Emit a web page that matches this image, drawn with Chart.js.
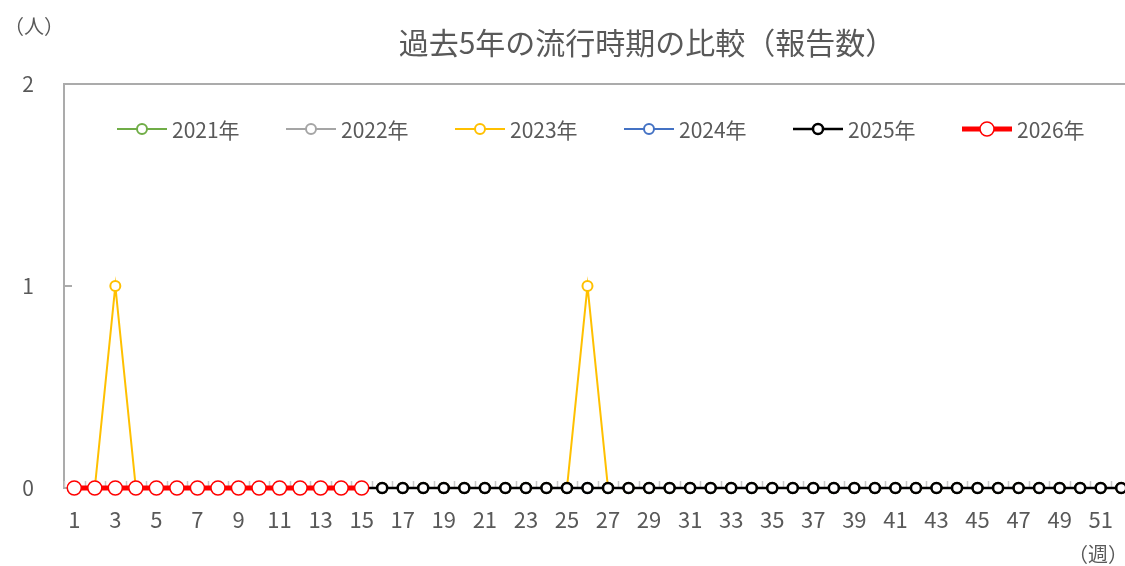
<!DOCTYPE html>
<html lang="ja">
<head>
<meta charset="utf-8">
<title>過去5年の流行時期の比較（報告数）</title>
<script src="https://cdn.jsdelivr.net/npm/chart.js@4.4.1/dist/chart.umd.min.js"></script>
<style>
  html, body { margin: 0; padding: 0; background: #fff; overflow: hidden; }
  #wrap { width: 1140px; height: 566px; }
</style>
</head>
<body>
<div id="wrap"><canvas id="chart" width="1140" height="566"></canvas></div>
<script>
const weeks = [
  1, 2, 3, 4, 5, 6, 7, 8, 9, 10, 11, 12, 13, 14, 15, 16, 17, 18, 19, 20, 21, 22, 23, 24, 25, 26,
  27, 28, 29, 30, 31, 32, 33, 34, 35, 36, 37, 38, 39, 40, 41, 42, 43, 44, 45, 46, 47, 48, 49, 50, 51, 52
];

const y2021 = [0,0,0,0,0,0,0,0,0,0,0,0,0,0,0,0,0,0,0,0,0,0,0,0,0,0,0,0,0,0,0,0,0,0,0,0,0,0,0,0,0,0,0,0,0,0,0,0,0,0,0,0];
const y2022 = [0,0,0,0,0,0,0,0,0,0,0,0,0,0,0,0,0,0,0,0,0,0,0,0,0,0,0,0,0,0,0,0,0,0,0,0,0,0,0,0,0,0,0,0,0,0,0,0,0,0,0,0];
const y2023 = [0,0,1,0,0,0,0,0,0,0,0,0,0,0,0,0,0,0,0,0,0,0,0,0,0,1,0,0,0,0,0,0,0,0,0,0,0,0,0,0,0,0,0,0,0,0,0,0,0,0,0,0];
const y2024 = [0,0,0,0,0,0,0,0,0,0,0,0,0,0,0,0,0,0,0,0,0,0,0,0,0,0,0,0,0,0,0,0,0,0,0,0,0,0,0,0,0,0,0,0,0,0,0,0,0,0,0,0];
const y2025 = [0,0,0,0,0,0,0,0,0,0,0,0,0,0,0,0,0,0,0,0,0,0,0,0,0,0,0,0,0,0,0,0,0,0,0,0,0,0,0,0,0,0,0,0,0,0,0,0,0,0,0,0];
const y2026 = [0,0,0,0,0,0,0,0,0,0,0,0,0,0,0];

const yTicks = [0, 1, 2];

const FONT = '"Noto Sans CJK JP", "Noto Sans", sans-serif';
const TEXT = '#595959';
const AXIS = '#ABABAB';

function series(label, data, color, opts) {
  return Object.assign({
    label,
    data,
    borderColor: color,
    backgroundColor: '#fff',
    pointBackgroundColor: '#fff',
    pointBorderColor: color,
    borderWidth: 2,
    pointRadius: 5,
    pointBorderWidth: 2,
    tension: 0,
    clip: false
  }, opts);
}

const datasets = [
  series('2021年', y2021, '#70AD47', { order: 5 }),
  series('2022年', y2022, '#A5A5A5', { order: 4 }),
  series('2023年', y2023, '#FFC000', { order: 2 }),
  series('2024年', y2024, '#4472C4', { order: 3 }),
  series('2025年', y2025, '#000000', { order: 1, borderWidth: 2.5, pointBorderWidth: 2.5 }),
  series('2026年', y2026, '#FF0000', { order: 0, borderWidth: 5, pointRadius: 7, pointBorderWidth: 1.5 })
];

// frame, inner tick marks, legend and captions
const decorations = {
  id: 'decorations',
  beforeDatasetsDraw(chart) {
    const { ctx, chartArea: a, scales } = chart;
    ctx.save();
    ctx.strokeStyle = AXIS;
    ctx.lineWidth = 2;
    ctx.strokeRect(a.left, a.top, a.right - a.left, a.bottom - a.top);

    ctx.strokeStyle = '#C8C8C8';
    ctx.lineWidth = 1.5;
    const xs = scales.x;
    const half = (xs.getPixelForValue(1) - xs.getPixelForValue(0)) / 2;
    ctx.beginPath();
    for (let i = 0; i <= weeks.length; i++) {
      const px = Math.round(xs.getPixelForValue(i) - half) + 0.5;
      ctx.moveTo(px, a.bottom);
      ctx.lineTo(px, a.bottom - 7);
    }
    ctx.stroke();

    ctx.strokeStyle = AXIS;
    ctx.lineWidth = 2;
    ctx.beginPath();
    yTicks.forEach(v => {
      const py = scales.y.getPixelForValue(v);
      ctx.moveTo(a.left, py);
      ctx.lineTo(a.left + 8, py);
    });
    ctx.stroke();
    ctx.restore();
  },
  afterDraw(chart) {
    const { ctx } = chart;
    ctx.save();
    ctx.fillStyle = TEXT;
    ctx.textBaseline = 'middle';

    ctx.font = '30px ' + FONT;
    ctx.textAlign = 'center';
    ctx.fillText('過去5年の流行時期の比較（報告数）', 647, 43);

    ctx.font = '20px ' + FONT;
    ctx.textAlign = 'left';
    ctx.fillText('（人）', 4, 26);
    ctx.fillText('（週）', 1068, 554);

    // legend: short line with a hollow marker, then the label
    ctx.font = '21px ' + FONT;
    chart.data.datasets.forEach((ds, i) => {
      const x0 = 117 + i * 169;
      const y0 = 129;
      ctx.strokeStyle = ds.borderColor;
      ctx.lineWidth = ds.borderWidth;
      ctx.beginPath();
      ctx.moveTo(x0, y0);
      ctx.lineTo(x0 + 50, y0);
      ctx.stroke();
      ctx.beginPath();
      ctx.arc(x0 + 25, y0, ds.pointRadius, 0, Math.PI * 2);
      ctx.fillStyle = '#fff';
      ctx.fill();
      ctx.lineWidth = ds.pointBorderWidth;
      ctx.strokeStyle = ds.pointBorderColor;
      ctx.stroke();
      ctx.fillStyle = TEXT;
      ctx.fillText(ds.label, x0 + 55, y0 + 1);
    });
    ctx.restore();
  }
};

new Chart(document.getElementById('chart'), {
  type: 'line',
  data: { labels: weeks, datasets },
  options: {
    responsive: false,
    animation: false,
    layout: { padding: { top: 84, right: 5, left: 0, bottom: 0 } },
    plugins: {
      legend: { display: false },
      title: { display: false },
      tooltip: { enabled: false }
    },
    scales: {
      x: {
        offset: true,
        grid: { display: false, drawTicks: false },
        border: { display: false },
        ticks: {
          autoSkip: false,
          maxRotation: 0,
          padding: 18,
          color: TEXT,
          font: { family: FONT, size: 22 },
          callback: (v, i) => (i % 2 === 0 ? weeks[i] : '')
        },
        afterFit: s => { s.height = 78; }
      },
      y: {
        min: 0,
        max: 2,
        afterBuildTicks: s => { s.ticks = yTicks.map(v => ({ value: v })); },
        grid: { display: false, drawTicks: false },
        border: { display: false },
        ticks: {
          padding: 30,
          color: TEXT,
          font: { family: FONT, size: 21 }
        },
        afterFit: s => { s.width = 64; }
      }
    }
  },
  plugins: [decorations]
});
</script>
</body>
</html>
